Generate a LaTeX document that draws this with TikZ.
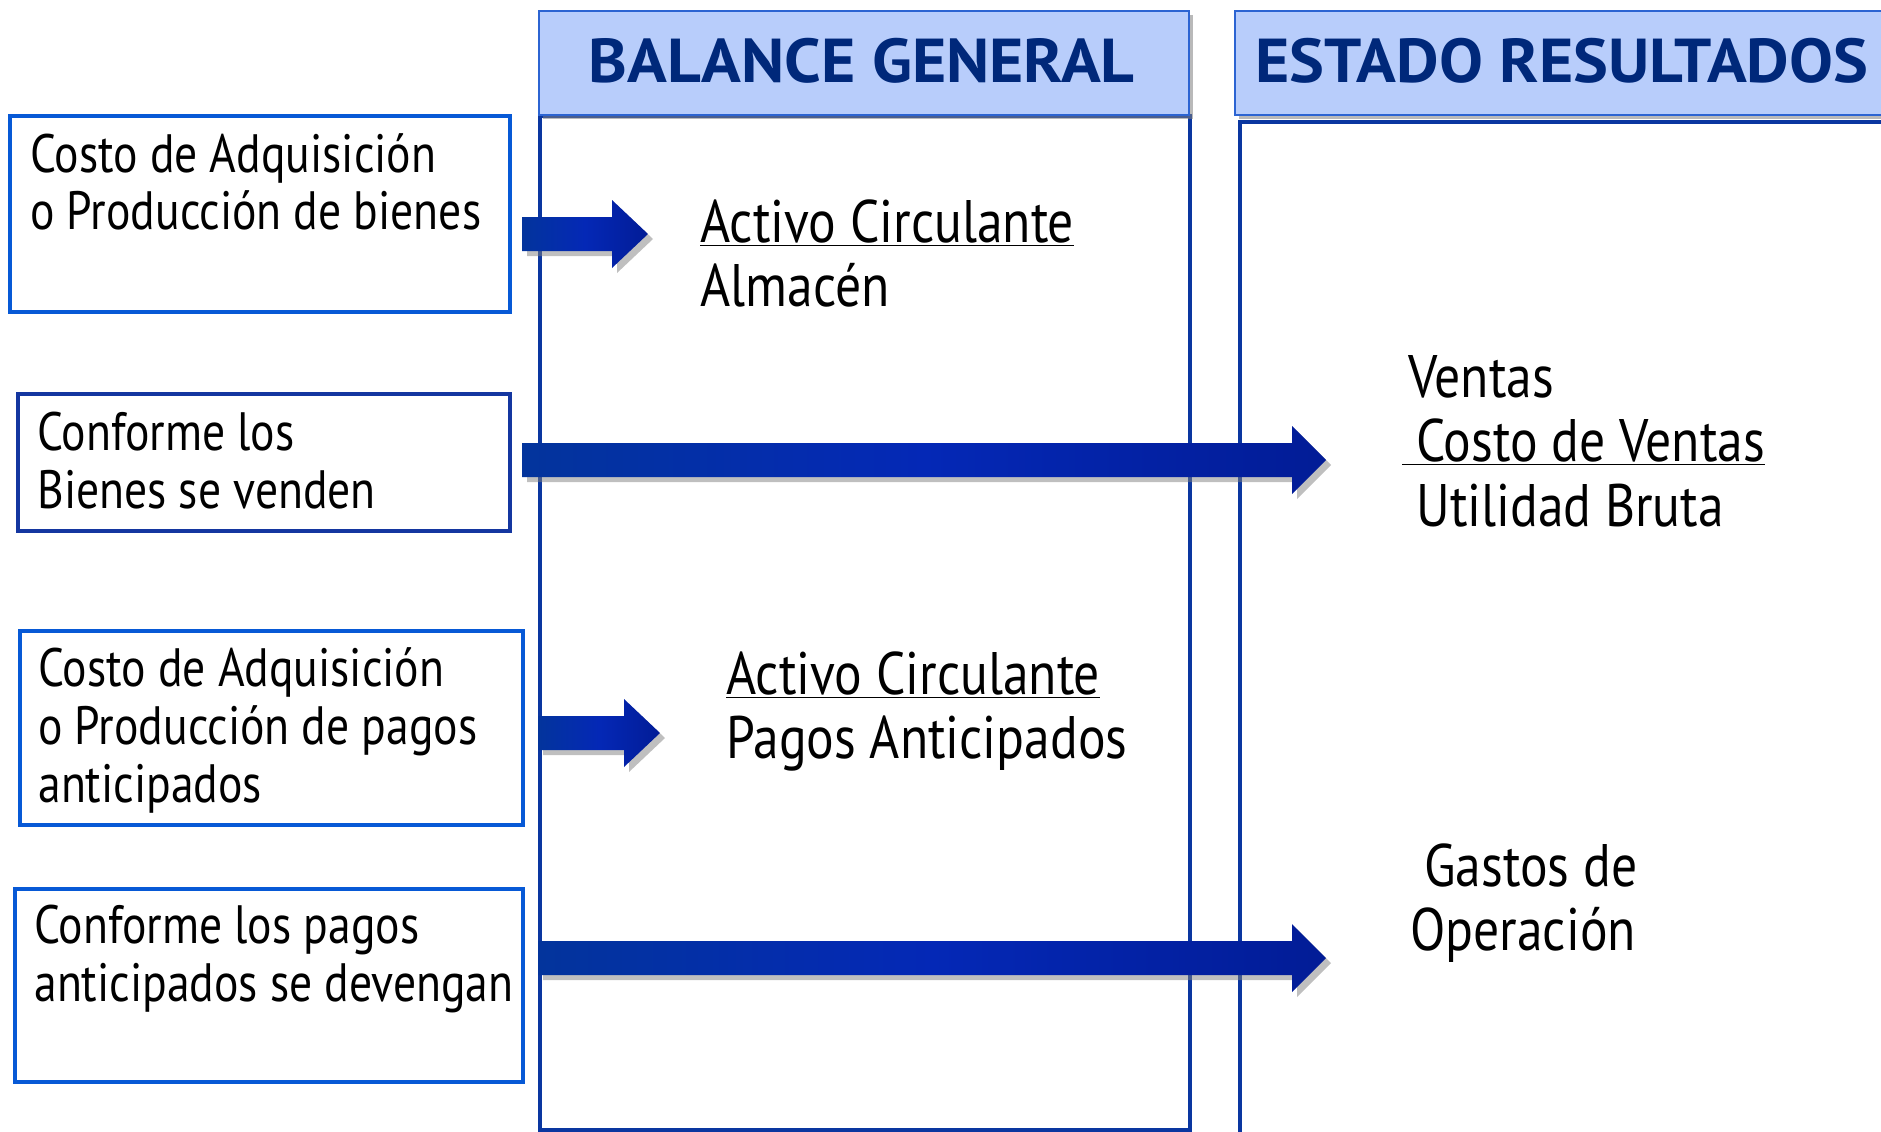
\documentclass[tikz,border=0pt]{standalone}
\usepackage{fontspec}
\setmainfont{PT Sans}
\newfontfamily\boxfont[FakeStretch=0.845]{PT Sans}
\newfontfamily\sidefont[FakeStretch=0.86]{PT Sans}
\newfontfamily\hdrfont[FakeStretch=1.06]{PT Sans}
\usetikzlibrary{shadows,calc}
\definecolor{hdrfill}{HTML}{B8CDFB}
\definecolor{hdrline}{HTML}{2C64D2}
\definecolor{hdrtext}{HTML}{00287A}
\definecolor{bodyline}{HTML}{0A36A0}
\definecolor{boxline}{HTML}{0759D6}
\definecolor{boxlinedark}{HTML}{1436A0}
\definecolor{arrL}{HTML}{03349C}
\definecolor{arrM}{HTML}{0428B6}
\definecolor{arrR}{HTML}{021C96}
\tikzset{
  hdr/.style={draw=hdrline, line width=1pt, fill=hdrfill, anchor=north west, inner sep=0pt,
    drop shadow={shadow xshift=2pt, shadow yshift=-2pt, opacity=0.55}},
  hdrtxt/.style={text=hdrtext, font=\hdrfont\fontsize{31}{33}\selectfont\bfseries, anchor=base west, inner sep=0pt},
  body/.style={draw=bodyline, line width=2pt, anchor=north west, inner sep=0pt},
  srcbox/.style={draw=boxline, line width=2pt, fill=white, anchor=north west, inner sep=0pt},
  boxtxt/.style={font=\boxfont\fontsize{27}{29}\selectfont, anchor=base west, inner sep=0pt},
  sidetxt/.style={font=\sidefont\fontsize{30}{32}\selectfont, anchor=base west, inner sep=0pt},
}
\newcommand\blockarrow[3]{% start, tip, head length
  \path[left color=arrL, right color=arrR, middle color=arrM,
        drop shadow={shadow xshift=2.5pt, shadow yshift=-2.5pt, opacity=0.5}]
    ($(#1)+(0,-17)$) -- ($(#2)+(-#3,-17)$) -- ($(#2)+(-#3,-34)$) -- (#2)
    -- ($(#2)+(-#3,34)$) -- ($(#2)+(-#3,17)$) -- ($(#1)+(0,17)$) -- cycle;
}
\begin{document}
\begin{tikzpicture}[x=0.5pt,y=-0.5pt]
\useasboundingbox (0,0) rectangle (1881,1131);
\clip (0,0) rectangle (1881,1131);
\fill[white] (0,0) rectangle (1881,1131);

% column bodies
\node[body, minimum width=325pt, minimum height=507pt] (bg) at (538,114) {};
\node[body, minimum width=330pt, minimum height=520pt] (er) at (1238,120) {};

% headers
\node[hdr, minimum width=325pt, minimum height=52pt] (bgh) at (538,10) {};
\node[hdr, minimum width=330pt, minimum height=52pt] (erh) at (1234,10) {};
\node[hdrtxt] (bght) at (588,82) {BALANCE GENERAL};
\node[hdrtxt] (erht) at (1255,82) {ESTADO RESULTADOS};

% arrows
\coordinate (a1s) at (522,234); \coordinate (a1e) at (648,234);
\coordinate (a2s) at (522,460); \coordinate (a2e) at (1326,460);
\coordinate (a3s) at (538,733); \coordinate (a3e) at (660,733);
\coordinate (a4s) at (538,958); \coordinate (a4e) at (1326,958);
\blockarrow{a1s}{a1e}{36}
\blockarrow{a2s}{a2e}{34}
\blockarrow{a3s}{a3e}{36}
\blockarrow{a4s}{a4e}{34}

% source boxes
\node[srcbox, minimum width=250pt, minimum height=98pt] (b1) at (8,114) {};
\node[srcbox, draw=boxlinedark, minimum width=246pt, minimum height=68.5pt] (b2) at (16,392) {};
\node[srcbox, minimum width=251.5pt, minimum height=97pt] (b3) at (18,629) {};
\node[srcbox, minimum width=254pt, minimum height=96.5pt] (b4) at (13,887) {};

\node[boxtxt] (t1a) at (30,172) {Costo de Adquisición};
\node[boxtxt] (t1b) at (30,229) {o Producción de bienes};
\node[boxtxt] (t2a) at (37,450) {Conforme los};
\node[boxtxt] (t2b) at (37,508) {Bienes se venden};
\node[boxtxt] (t3a) at (38,686) {Costo de Adquisición};
\node[boxtxt] (t3b) at (38,744) {o Producción de pagos};
\node[boxtxt] (t3c) at (38,802) {anticipados};
\node[boxtxt] (t4a) at (34,943) {Conforme los pagos};
\node[boxtxt] (t4b) at (34,1001) {anticipados se devengan};

% balance texts
\node[sidetxt] (ac1) at (700,242) {\underline{Activo Circulante}};
\node[sidetxt] (alm) at (700,306) {Almacén};
\node[sidetxt] (ac2) at (726,694) {\underline{Activo Circulante}};
\node[sidetxt] (pag) at (726,758) {Pagos Anticipados};

% estado texts
\node[sidetxt] (ven) at (1408,397) {Ventas};
\node[sidetxt] (cdv) at (1402,461) {\underline{\ Costo de Ventas}};
\node[sidetxt] (ub) at (1416,526) {Utilidad Bruta};
\node[sidetxt] (gd) at (1424,886) {Gastos de};
\node[sidetxt] (op) at (1410,950) {Operación};
\end{tikzpicture}
\end{document}
